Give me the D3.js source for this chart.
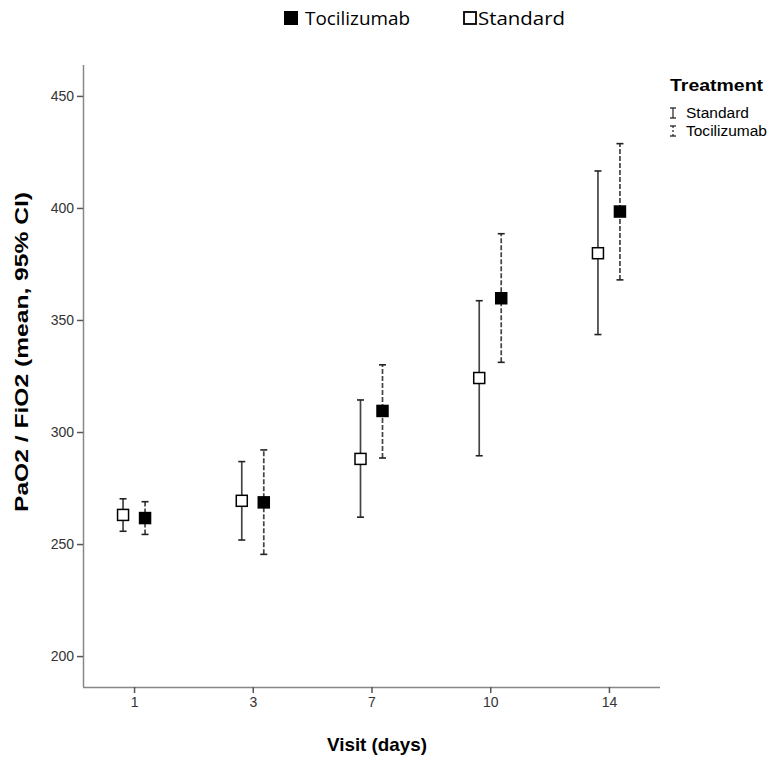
<!DOCTYPE html>
<html>
<head>
<meta charset="utf-8">
<script src="https://cdn.jsdelivr.net/npm/d3@7"></script>
<style>
  body { margin: 0; background: #fff; }
  .tick text { font-family: Arial, "Liberation Sans", sans-serif; font-size: 14px; fill: #333; }
</style>
</head>
<body>
<div id="viz"></div>
<script>
"use strict";

var w = 767;
var h = 758;

// data
var visits = ["1", "3", "7", "10", "14"];
var standardMean = [263, 269.3, 288, 324.1, 379.8];
var standardLow  = [255.7, 251.8, 262, 289.4, 343.5];
var standardHigh = [270.2, 286.8, 314.3, 358.6, 416.5];
var tociMean = [261.6, 268.6, 309.4, 359.7, 398.4];
var tociLow  = [254.3, 245.4, 288.4, 331.1, 367.9];
var tociHigh = [268.9, 292, 330, 388.5, 428.7];
var yTicks = [200, 250, 300, 350, 400, 450];

var plotLeft = 83, plotRight = 660, plotTop = 65, plotBottom = 687;

var svg = d3.select("#viz")
  .append("svg")
  .attr("width", w)
  .attr("height", h);

var x = d3.scalePoint()
  .domain(visits)
  .range([plotLeft, plotRight])
  .padding(0.43);

var y = d3.scaleLinear()
  .domain([186.2, 463.8])
  .range([plotBottom, plotTop]);

var yAxis = svg.append("g")
  .attr("transform", "translate(" + plotLeft + ",0)")
  .call(d3.axisLeft(y).tickValues(yTicks).tickSize(6).tickPadding(3).tickSizeOuter(0));
var xAxis = svg.append("g")
  .attr("transform", "translate(0," + plotBottom + ")")
  .call(d3.axisBottom(x).tickSize(6).tickPadding(4).tickSizeOuter(0));

svg.selectAll(".domain").attr("stroke", "#888").attr("stroke-width", 1.5);
svg.selectAll(".tick line").attr("stroke", "#555").attr("stroke-width", 1.5);
yAxis.select(".domain").attr("d", "M0.5," + plotTop + "V" + plotBottom);
xAxis.select(".domain").attr("d", "M" + plotLeft + ",0.5H" + plotRight);

var series = [
  { name: "Standard", mean: standardMean, low: standardLow, high: standardHigh, off: -11, fill: "#fff", dash: null },
  { name: "Tocilizumab", mean: tociMean, low: tociLow, high: tociHigh, off: 11, fill: "#000", dash: "5,2" }
];

series.forEach(function(s) {
  var g = svg.append("g");
  var pts = visits.map(function(v, i) {
    return { cx: x(v) + s.off, m: s.mean[i], lo: s.low[i], hi: s.high[i] };
  });

  g.selectAll("line.whisker")
    .data(pts).enter()
    .append("line")
    .attr("x1", function(d) { return d.cx; })
    .attr("x2", function(d) { return d.cx; })
    .attr("y1", function(d) { return y(d.lo); })
    .attr("y2", function(d) { return y(d.hi); })
    .attr("stroke", "#444")
    .attr("stroke-width", 1.7)
    .attr("stroke-dasharray", s.dash);

  ["lo", "hi"].forEach(function(k) {
    g.selectAll("line.cap-" + k)
      .data(pts).enter()
      .append("line")
      .attr("x1", function(d) { return d.cx - 3.5; })
      .attr("x2", function(d) { return d.cx + 3.5; })
      .attr("y1", function(d) { return y(d[k]); })
      .attr("y2", function(d) { return y(d[k]); })
      .attr("stroke", "#222")
      .attr("stroke-width", 1.6);
  });

  g.selectAll("rect")
    .data(pts).enter()
    .append("rect")
    .attr("x", function(d) { return d.cx - 5.5; })
    .attr("y", function(d) { return y(d.m) - 5.5; })
    .attr("width", 11)
    .attr("height", 11)
    .attr("fill", s.fill)
    .attr("stroke", "#000")
    .attr("stroke-width", 1.5);
});

// axis titles
svg.append("text")
  .attr("x", 377).attr("y", 751)
  .attr("text-anchor", "middle")
  .attr("textLength", 100)
  .attr("lengthAdjust", "spacingAndGlyphs")
  .style("font-family", "Arial, 'Liberation Sans', sans-serif")
  .style("font-size", "18.5px").style("font-weight", "bold")
  .text("Visit (days)");

svg.append("text")
  .attr("transform", "translate(28,352) rotate(-90)")
  .attr("text-anchor", "middle")
  .attr("textLength", 320)
  .attr("lengthAdjust", "spacingAndGlyphs")
  .style("font-family", "Arial, 'Liberation Sans', sans-serif")
  .style("font-size", "18px").style("font-weight", "bold")
  .text("PaO2 / FiO2 (mean, 95% CI)");

// top legend
var topLegend = [
  { name: "Tocilizumab", fill: "#000", x: 284, len: 105 },
  { name: "Standard", fill: "#fff", x: 463, len: 87 }
];
var tl = svg.append("g").selectAll("g")
  .data(topLegend).enter()
  .append("g")
  .attr("transform", function(d) { return "translate(" + d.x + ",11)"; });
tl.append("rect")
  .attr("x", function(d) { return d.fill === "#000" ? 0 : 1; })
  .attr("y", function(d) { return d.fill === "#000" ? 0 : 1; })
  .attr("width", function(d) { return d.fill === "#000" ? 14 : 12; })
  .attr("height", function(d) { return d.fill === "#000" ? 14 : 12; })
  .attr("fill", function(d) { return d.fill; })
  .attr("stroke", "#000")
  .attr("stroke-width", function(d) { return d.fill === "#000" ? 0 : 1.8; });
tl.append("text")
  .attr("x", function(d) { return d.fill === "#000" ? 21 : 15; })
  .attr("y", 14)
  .attr("textLength", function(d) { return d.len; })
  .attr("lengthAdjust", "spacingAndGlyphs")
  .style("font-family", "'Open Sans', Lato, sans-serif")
  .style("font-size", "19px")
  .text(function(d) { return d.name; });

// right legend
var rl = svg.append("g").attr("transform", "translate(668,0)");
rl.append("text")
  .attr("x", 2).attr("y", 91)
  .attr("textLength", 93)
  .attr("lengthAdjust", "spacingAndGlyphs")
  .style("font-family", "Arial, 'Liberation Sans', sans-serif")
  .style("font-size", "17px").style("font-weight", "bold")
  .text("Treatment");
var legendItems = [
  { name: "Standard", dash: null, y: 113, len: 63 },
  { name: "Tocilizumab", dash: "2,2", y: 131, len: 81 }
];
var li = rl.selectAll("g.item")
  .data(legendItems).enter()
  .append("g")
  .attr("transform", function(d) { return "translate(0," + d.y + ")"; });
li.append("line")
  .attr("x1", 5).attr("x2", 5).attr("y1", -5).attr("y2", 5)
  .attr("stroke", "#333").attr("stroke-width", 1.3)
  .attr("stroke-dasharray", function(d) { return d.dash; });
li.append("line").attr("x1", 2).attr("x2", 8).attr("y1", -5).attr("y2", -5).attr("stroke", "#222").attr("stroke-width", 1.3);
li.append("line").attr("x1", 2).attr("x2", 8).attr("y1", 5).attr("y2", 5).attr("stroke", "#222").attr("stroke-width", 1.3);
li.append("text")
  .attr("x", 18).attr("y", 5)
  .attr("textLength", function(d) { return d.len; })
  .attr("lengthAdjust", "spacingAndGlyphs")
  .style("font-family", "Arial, 'Liberation Sans', sans-serif")
  .style("font-size", "14px")
  .text(function(d) { return d.name; });
</script>
</body>
</html>
